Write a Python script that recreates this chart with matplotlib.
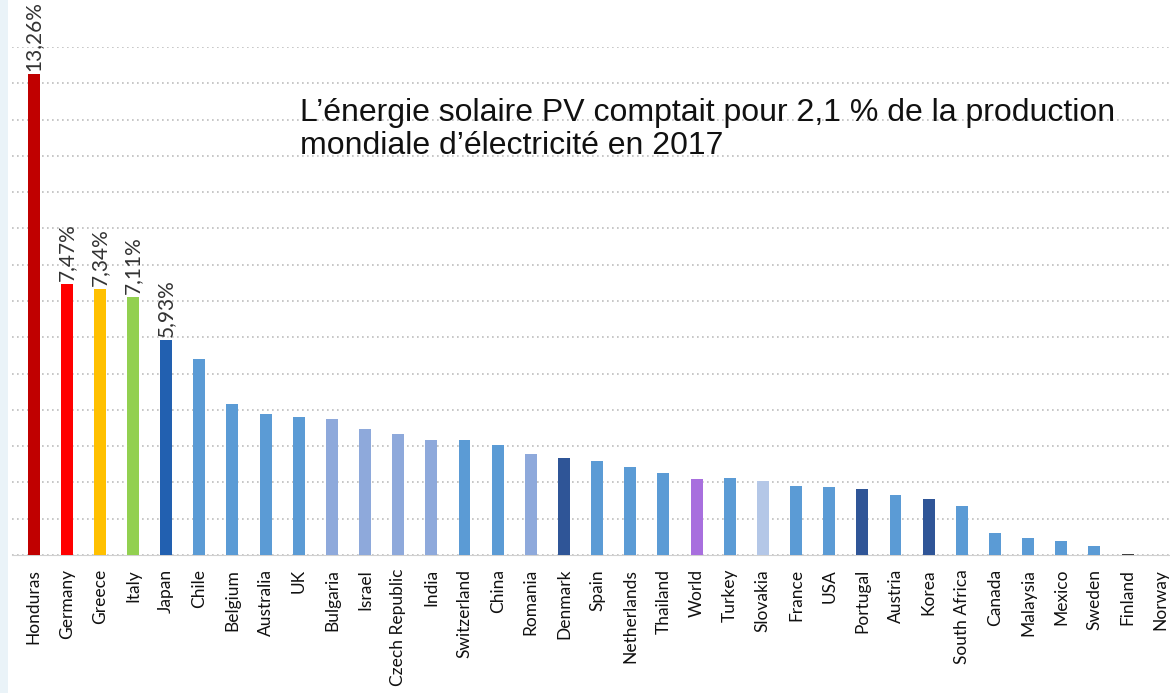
import matplotlib
matplotlib.use("Agg")
import matplotlib.pyplot as plt
from matplotlib.patches import Rectangle

countries = ["Honduras", "Germany", "Greece", "Italy", "Japan", "Chile", "Belgium",
             "Australia", "UK", "Bulgaria", "Israel", "Czech Republic", "India",
             "Switzerland", "China", "Romania", "Denmark", "Spain", "Netherlands",
             "Thailand", "World", "Turkey", "Slovakia", "France", "USA", "Portugal",
             "Austria", "Korea", "South Africa", "Canada", "Malaysia", "Mexico",
             "Sweden", "Finland", "Norway"]
share = [13.26, 7.47, 7.34, 7.11, 5.93, 5.39, 4.15, 3.88, 3.80, 3.74, 3.47, 3.33,
         3.16, 3.16, 3.03, 2.78, 2.67, 2.59, 2.42, 2.26, 2.10, 2.11, 2.04, 1.90,
         1.87, 1.81, 1.65, 1.53, 1.35, 0.60, 0.48, 0.38, 0.26, 0.03, 0.0]
labelled = ["13,26%", "7,47%", "7,34%", "7,11%", "5,93%"]

mid = "#5B9BD5"
lav = "#8EA9DB"
dark = "#2F5597"
colors = ["#C00000", "#FF0000", "#FFC000", "#92D050", "#2260B0", mid, mid,
          mid, mid, lav, lav, lav, lav, mid, mid, lav, dark, mid, mid,
          mid, "#A86FDE", mid, "#B4C7E7", mid, mid, dark, mid, dark, mid, mid,
          mid, mid, mid, "#404040", mid]

fig = plt.figure(figsize=(11.7, 6.93), dpi=100)
fig.patches.append(Rectangle((0, 0), 8 / 1170, 1, transform=fig.transFigure,
                             facecolor="#EAF3F8", edgecolor="none"))
# baseline at y=555px, 14% gridline at y=47px
ax = fig.add_axes([12 / 1170, 138 / 693, 1 - 12 / 1170, 508 / 693])

x = list(range(len(countries)))
ax.bar(x, share, width=0.36, color=colors, zorder=3)
ax.set_xlim(-0.65, 34.28)
ax.set_ylim(0, 14.0)
ax.set_yticks(range(0, 15))
ax.yaxis.grid(True, linestyle=(0, (1, 2)), color="#BDBDBD", linewidth=1.2, zorder=0)
ax.tick_params(axis="y", left=False, labelleft=False)
ax.tick_params(axis="x", length=0, pad=10)
ax.set_xticks(x)
ax.set_xticklabels(countries, rotation=90, fontsize=12.5, family="Lato", color="#111111")
for s in ["top", "right", "left"]:
    ax.spines[s].set_visible(False)
ax.spines["bottom"].set_color("#D0D0D0")

for i, lab in enumerate(labelled):
    ax.text(i, share[i] + 0.08, lab, rotation=90, ha="center", va="bottom",
            fontsize=15, family="Lato", color="#333333")

ax.text(8.04, 11.72, "L\u2019\u00e9nergie solaire PV comptait pour 2,1 % de la production\n"
        "mondiale d\u2019\u00e9lectricit\u00e9 en 2017", family="Liberation Sans",
        fontsize=23, ha="left", va="center", linespacing=1.15, color="#111111")

fig.savefig("out.png", dpi=100)
